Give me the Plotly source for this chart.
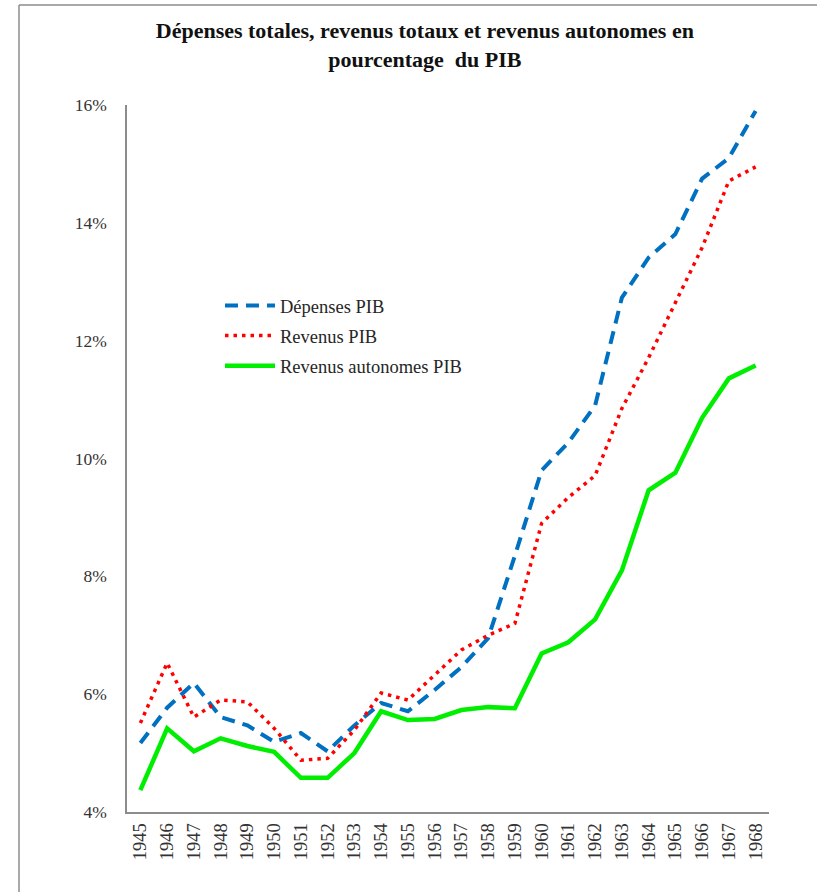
import plotly.graph_objects as go

# Années et séries (en % du PIB)
annees = list(range(1945, 1969))
depenses_pib = [5.17, 5.77, 6.19, 5.61, 5.47, 5.19, 5.34, 5.03, 5.47, 5.85, 5.71, 6.07,
                6.46, 6.95, 8.35, 9.80, 10.27, 10.90, 12.73, 13.41, 13.81, 14.75, 15.10, 15.90]
revenus_pib = [5.51, 6.53, 5.61, 5.90, 5.87, 5.42, 4.88, 4.91, 5.39, 6.02, 5.90, 6.32,
               6.75, 7.00, 7.20, 8.90, 9.34, 9.71, 10.85, 11.71, 12.63, 13.58, 14.71, 14.95]
revenus_autonomes_pib = [4.37, 5.42, 5.03, 5.25, 5.12, 5.02, 4.58, 4.58, 5.00, 5.71, 5.56, 5.58,
                         5.73, 5.78, 5.76, 6.69, 6.88, 7.27, 8.10, 9.46, 9.76, 10.69, 11.36, 11.58]

y_ticks = [4, 6, 8, 10, 12, 14, 16]
y_tick_labels = ["4%", "6%", "8%", "10%", "12%", "14%", "16%"]

SERIF = "Liberation Serif, Times New Roman, serif"

fig = go.Figure()
fig.add_trace(go.Scatter(
    x=annees, y=depenses_pib, mode="lines", name="Dépenses PIB",
    legendgroup="a",
    line=dict(color="#0070C0", width=4, dash="13px,8px"),
))
fig.add_trace(go.Scatter(
    x=annees, y=revenus_pib, mode="lines", name="Revenus PIB",
    legendgroup="b",
    line=dict(color="#FF0000", width=3.5, dash="3.5px,5px"),
))
fig.add_trace(go.Scatter(
    x=annees, y=revenus_autonomes_pib, mode="lines", name="Revenus autonomes PIB",
    legendgroup="c",
    line=dict(color="#00EE00", width=4.5),
))

# Cadre de la zone du graphique (bords haut et gauche)
L, R, T, B = 127, 48, 105, 80
W, H = 817, 892
pw, ph = W - L - R, H - T - B


def px_x(v):
    return (v - L) / pw


def px_y(v):
    return (H - B - v) / ph


frame = dict(color="#8C8C8C", width=1.5)
fig.add_shape(type="line", xref="paper", yref="paper",
              x0=px_x(19), x1=px_x(W + 5), y0=px_y(5), y1=px_y(5), line=frame)
fig.add_shape(type="line", xref="paper", yref="paper",
              x0=px_x(19), x1=px_x(19), y0=px_y(5), y1=px_y(H + 5), line=frame)

fig.update_layout(
    width=W, height=H,
    margin=dict(l=L, r=R, t=T, b=B),
    paper_bgcolor="white", plot_bgcolor="white",
    showlegend=True,
    title=dict(
        text="<b>Dépenses totales, revenus totaux et revenus autonomes en<br>pourcentage  du PIB</b>",
        font=dict(family=SERIF, size=22, color="#111111"),
        xref="container", x=0.52, xanchor="center",
        yref="container", y=1 - 38 / H, yanchor="top",
    ),
    legend=dict(
        x=px_x(220), y=px_y(287), xanchor="left", yanchor="top",
        font=dict(family=SERIF, size=18.5, color="#262626"),
        bgcolor="rgba(0,0,0,0)", tracegroupgap=3, itemwidth=50,
    ),
    xaxis=dict(
        range=[1944.5, 1968.5],
        tickmode="array", tickvals=annees, ticktext=[str(a) for a in annees],
        tickangle=-90,
        tickfont=dict(family=SERIF, size=18.5, color="#333333"),
        showgrid=False, zeroline=False,
        showline=True, linecolor="#8C8C8C", linewidth=1.5,
        ticks="", ticklabelstandoff=2,
    ),
    yaxis=dict(
        range=[4, 16],
        tickmode="array", tickvals=y_ticks, ticktext=y_tick_labels,
        tickfont=dict(family=SERIF, size=17.5, color="#333333"),
        showgrid=False, zeroline=False,
        showline=True, linecolor="#8C8C8C", linewidth=1.5,
        ticks="", ticklabelstandoff=15,
    ),
)

fig.write_html("out.html")
